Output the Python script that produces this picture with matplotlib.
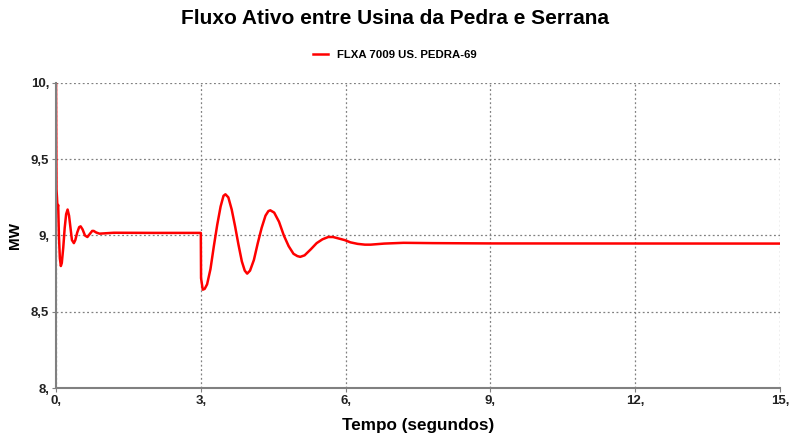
import matplotlib
matplotlib.use("Agg")
import matplotlib.pyplot as plt
from matplotlib.ticker import FuncFormatter

plt.rcParams['font.family'] = ['Liberation Sans', 'DejaVu Sans']

# tempo (s) e fluxo (MW)
tempo = [0.0, 0.005, 0.01, 0.02, 0.03, 0.045, 0.06, 0.08, 0.10, 0.12, 0.15, 0.18,
         0.21, 0.24, 0.27, 0.30, 0.33, 0.37, 0.40, 0.44, 0.48, 0.51, 0.55, 0.60,
         0.65, 0.70, 0.75, 0.78, 0.83, 0.90, 1.2, 2.0, 3.0,
         3.005, 3.04, 3.08, 3.13, 3.20, 3.27, 3.34, 3.41, 3.47, 3.51,
         3.57, 3.64, 3.71, 3.78, 3.85, 3.91, 3.96,
         4.02, 4.10, 4.18, 4.26, 4.34, 4.40, 4.44,
         4.52, 4.62, 4.72, 4.82, 4.92, 5.00, 5.06,
         5.15, 5.28, 5.40, 5.52, 5.64, 5.74,
         5.86, 5.98, 6.10, 6.25, 6.40, 6.52, 6.80, 7.20, 7.80, 9.0, 15.0]
fluxo = [10.0, 9.6, 9.3, 9.25, 9.18, 9.2, 9.0, 8.85, 8.80, 8.82, 8.92, 9.05,
         9.14, 9.17, 9.13, 9.05, 8.97, 8.95, 8.97, 9.02, 9.055, 9.06, 9.04, 9.0,
         8.99, 9.01, 9.03, 9.03, 9.02, 9.012, 9.018, 9.017, 9.017,
         8.72, 8.645, 8.65, 8.68, 8.78, 8.93, 9.07, 9.19, 9.26, 9.27,
         9.25, 9.17, 9.06, 8.94, 8.83, 8.77, 8.75,
         8.77, 8.84, 8.95, 9.05, 9.13, 9.16, 9.165,
         9.15, 9.09, 9.00, 8.93, 8.88, 8.865, 8.86,
         8.87, 8.91, 8.95, 8.975, 8.99, 8.99,
         8.98, 8.97, 8.955, 8.945, 8.94, 8.94, 8.947, 8.952, 8.95, 8.948, 8.947]

xticks = [0, 3, 6, 9, 12, 15]
yticks = [8, 8.5, 9, 9.5, 10]


def virgula(v, pos):
    s = ('%g' % v).replace('.', ',')
    if ',' not in s:
        s += ','
    return s


fig = plt.figure(figsize=(7.9, 4.41), dpi=100)
ax = fig.add_axes([0.0709, 0.12, 0.9165, 0.692])

ax.plot(tempo, fluxo, color='#ff0000', lw=1.8, label='FLXA 7009 US. PEDRA-69')

ax.set_xlim(0, 15)
ax.set_ylim(8, 10)
ax.set_xticks(xticks)
ax.set_yticks(yticks)
ax.xaxis.set_major_formatter(FuncFormatter(virgula))
ax.yaxis.set_major_formatter(FuncFormatter(virgula))
ax.grid(True, color='#808080', linestyle=(0, (1.5, 2)), lw=0.9)

for s in ['top', 'right']:
    ax.spines[s].set_visible(False)
for s in ['left', 'bottom']:
    ax.spines[s].set_color('#808080')
    ax.spines[s].set_linewidth(1.5)
ax.tick_params(colors='#808080', length=3, pad=2, labelcolor='#222222', labelsize=9.5)
for lab in ax.get_xticklabels() + ax.get_yticklabels():
    lab.set_fontweight('bold')

ax.set_xlabel('Tempo (segundos)', fontsize=12.3, fontweight='bold', labelpad=8)
ax.set_ylabel('MW', fontsize=11, fontweight='bold', labelpad=6)

fig.suptitle('Fluxo Ativo entre Usina da Pedra e Serrana', fontsize=15,
             fontweight='bold', y=1 - 18 / 441, va='center')
fig.legend(loc='center', bbox_to_anchor=(0.5, 1 - 55 / 441), frameon=False,
           prop={'size': 8.2, 'weight': 'bold'}, handlelength=1.3, handletextpad=0.8)

fig.savefig('out.png', dpi=100)
